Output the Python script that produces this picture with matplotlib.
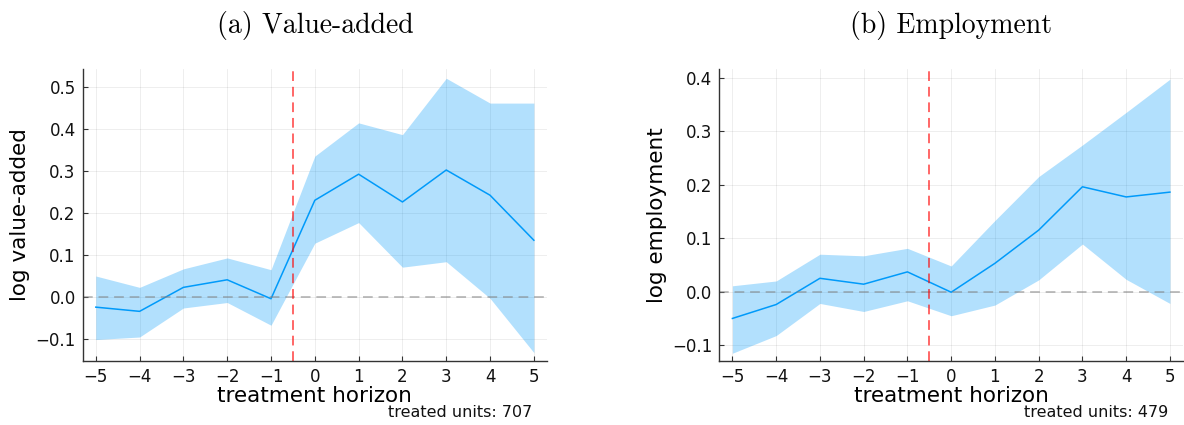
import matplotlib
matplotlib.use("Agg")
import matplotlib.pyplot as plt
import numpy as np

horizon = [-5, -4, -3, -2, -1, 0, 1, 2, 3, 4, 5]
x_ticklabels = ["\u22125", "\u22124", "\u22123", "\u22122", "\u22121", "0", "1", "2", "3", "4", "5"]

va_mean = [-0.024, -0.034, 0.023, 0.041, -0.004, 0.230, 0.292, 0.226, 0.302, 0.242, 0.135]
va_upper = [0.050, 0.023, 0.067, 0.093, 0.065, 0.335, 0.414, 0.386, 0.520, 0.461, 0.461]
va_lower = [-0.101, -0.095, -0.026, -0.013, -0.067, 0.128, 0.177, 0.071, 0.084, -0.003, -0.132]
va_yticks = [-0.1, 0.0, 0.1, 0.2, 0.3, 0.4, 0.5]
va_yticklabels = ["\u22120.1", "0.0", "0.1", "0.2", "0.3", "0.4", "0.5"]

emp_mean = [-0.050, -0.024, 0.025, 0.014, 0.037, -0.001, 0.053, 0.115, 0.196, 0.177, 0.186]
emp_upper = [0.011, 0.020, 0.070, 0.067, 0.081, 0.048, 0.133, 0.215, 0.274, 0.335, 0.397]
emp_lower = [-0.115, -0.082, -0.022, -0.037, -0.017, -0.045, -0.025, 0.022, 0.089, 0.023, -0.022]
emp_yticks = [-0.1, 0.0, 0.1, 0.2, 0.3, 0.4]
emp_yticklabels = ["\u22120.1", "0.0", "0.1", "0.2", "0.3", "0.4"]

titles = ["(a) Value-added", "(b) Employment"]
ylabels = ["log value-added", "log employment"]
notes = ["treated units: 707", "treated units: 479"]
treat_line = -0.5

fig = plt.figure(figsize=(11.84, 4.25), dpi=100)
ax1 = fig.add_axes([0.0698, 0.1506, 0.462 - 0.0698, 0.8376 - 0.1506])
ax2 = fig.add_axes([0.6075, 0.1506, 0.9992 - 0.6075, 0.8376 - 0.1506])

blue = "#009AFA"
panels = [
    (ax1, va_mean, va_lower, va_upper, va_yticks, va_yticklabels, (-0.152, 0.542)),
    (ax2, emp_mean, emp_lower, emp_upper, emp_yticks, emp_yticklabels, (-0.1295, 0.416)),
]

for i, (ax, m, lo, hi, yt, ytl, ylim) in enumerate(panels):
    ax.fill_between(horizon, lo, hi, color=blue, alpha=0.3, linewidth=0)
    ax.plot(horizon, m, color=blue, linewidth=1.1)
    ax.axhline(0, color="gray", alpha=0.5, linestyle=(0, (5, 3)), linewidth=1.4)
    ax.axvline(treat_line, color="red", alpha=0.6, linestyle=(0, (5, 3)), linewidth=1.4)
    ax.set_xlim(-5.3, 5.3)
    ax.set_ylim(*ylim)
    ax.set_xticks(horizon)
    ax.set_xticklabels(x_ticklabels)
    ax.set_yticks(yt)
    ax.set_yticklabels(ytl)
    ax.grid(True, color="black", alpha=0.08, linewidth=0.6)
    ax.set_axisbelow(True)
    for s in ["top", "right"]:
        ax.spines[s].set_visible(False)
    for s in ["left", "bottom"]:
        ax.spines[s].set_color("#333333")
        ax.spines[s].set_linewidth(1.0)
    ax.tick_params(direction="in", length=3.5, width=0.8, color="#333333",
                   labelsize=12, labelcolor="#111111", pad=5)
    ax.set_xlabel("treatment horizon", fontsize=15.5, labelpad=0)
    ax.set_ylabel(ylabels[i], fontsize=15.5, labelpad=4)
    bb = ax.get_position()
    xr = bb.x0 + (5 + 5.3) / 10.6 * bb.width
    fig.text(xr - 0.001, 0.030, notes[i], ha="right", va="center", fontsize=11.5, color="#111111")
    fig.text(bb.x0 + bb.width / 2, 0.94, titles[i], ha="center", va="center",
             fontsize=20, family="serif", fontname="cmr10")

fig.savefig("out.png", dpi=100)
